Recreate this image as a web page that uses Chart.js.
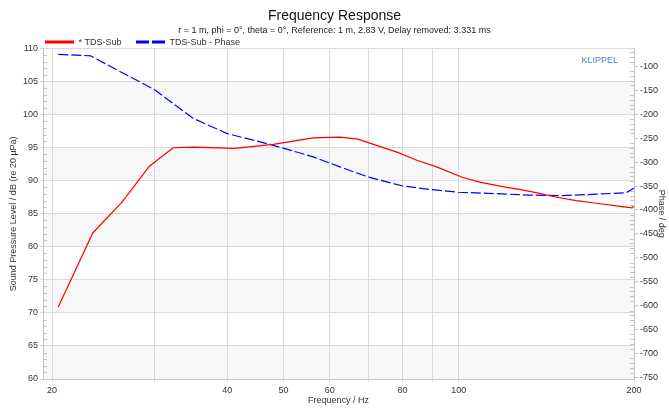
<!DOCTYPE html>
<html>
<head>
<meta charset="utf-8">
<script src="https://cdn.jsdelivr.net/npm/chart.js@4/dist/chart.umd.min.js"></script>
<style>
    html, body { margin: 0; padding: 0; background: #fff; }
    #wrap { width: 669px; height: 408px; }
</style>
</head>
<body>
<div id="wrap"><canvas id="chart"></canvas></div>
<script>
// SPL curve (left axis)
const splFreq = [20.5, 23.5, 26.4, 29.4, 32.3, 35.0, 41.2, 48.0, 56.2, 62.5, 67.1, 70.3, 78.5, 84.7, 91.6, 101.6, 108.6, 120.8, 127.2, 137.7, 147.2, 159.2, 172.4, 186.5, 198.4, 200];
const splDb   = [70.9, 82.1, 86.8, 92.2, 95.0, 95.1, 94.9, 95.5, 96.5, 96.6, 96.3, 95.7, 94.3, 93.1, 92.1, 90.5, 89.8, 89.0, 88.7, 88.1, 87.5, 87.0, 86.6, 86.2, 85.9, 86.2];

// Phase curve (right axis)
const phaseFreq = [20.5, 23.3, 25.9, 29.1, 30.1, 32.3, 35.0, 39.9, 48.0, 56.2, 62.5, 67.6, 70.3, 80.1, 89.1, 99.8, 116.1, 132.2, 150.7, 172.3, 194.0, 200];
const phaseDeg  = [-75, -78, -108, -140, -150, -178, -209, -240, -265, -289, -310, -325, -332, -350, -357, -363, -366, -369, -370, -367, -364, -354];

// axis ticks
const gridFreqs  = [20, 30, 40, 50, 60, 70, 80, 90, 100, 200];
const labelFreqs = [20, 40, 50, 60, 80, 100, 200];

const FONT = "'Liberation Sans', Arial, sans-serif";
const TXT = '#333';

function toPoints(xs, ys) {
    return xs.map(function(x, i) { return { x: x, y: ys[i] }; });
}

// grey bands every other 5 dB, plus white background
const bands = {
    id: 'bands',
    beforeDraw(chart) {
        const ctx = chart.ctx, a = chart.chartArea, y = chart.scales.y;
        ctx.save();
        ctx.fillStyle = '#fff';
        ctx.fillRect(0, 0, chart.width, chart.height);
        ctx.fillStyle = '#f7f7f7';
        for (let v = 60; v < 110; v += 10) {
            const top = y.getPixelForValue(v + 5), bot = y.getPixelForValue(v);
            ctx.fillRect(a.left, top, a.right - a.left, bot - top);
        }
        ctx.restore();
    }
};

// minor ticks inside the plot edges + the KLIPPEL tag
const extras = {
    id: 'extras',
    afterDraw(chart) {
        const ctx = chart.ctx, a = chart.chartArea;
        const y = chart.scales.y, y2 = chart.scales.y2;
        ctx.save();
        ctx.strokeStyle = '#c4c4c4';
        ctx.lineWidth = 1;
        ctx.beginPath();
        for (let v = 61; v < 110; v++) {
            if (v % 5 === 0) continue;
            const py = Math.round(y.getPixelForValue(v)) + 0.5;
            ctx.moveTo(a.left, py); ctx.lineTo(a.left + 4, py);
        }
        for (let v = -750; v <= y2.max; v += 10) {
            if (v % 50 === 0) continue;
            const py = Math.round(y2.getPixelForValue(v)) + 0.5;
            ctx.moveTo(a.right - 4, py); ctx.lineTo(a.right, py);
        }
        ctx.stroke();
        ctx.fillStyle = '#4a86c4';
        ctx.font = '9px ' + FONT;
        ctx.textAlign = 'right';
        ctx.textBaseline = 'middle';
        ctx.fillText('KLIPPEL', a.right - 16, a.top + 12);
        ctx.restore();
    }
};

document.addEventListener('DOMContentLoaded', function() {
    const ctx = document.getElementById('chart');

    new Chart(ctx, {
        type: 'line',
        data: {
            datasets: [{
                label: '* TDS-Sub',
                data: toPoints(splFreq, splDb),
                yAxisID: 'y',
                borderColor: '#ff0000',
                borderWidth: 1.2,
                pointRadius: 0,
                tension: 0,
                legendDash: []
            }, {
                label: 'TDS-Sub - Phase',
                data: toPoints(phaseFreq, phaseDeg),
                yAxisID: 'y2',
                borderColor: '#0000ff',
                borderWidth: 1.2,
                borderDash: [10, 3],
                pointRadius: 0,
                tension: 0,
                legendDash: [13, 3]
            }]
        },
        options: {
            responsive: true,
            maintainAspectRatio: false,
            animation: false,
            layout: { padding: 0 },
            plugins: {
                title: {
                    display: true,
                    text: 'Frequency Response',
                    color: '#111',
                    font: { family: FONT, size: 14, weight: 'normal' },
                    padding: { top: 8, bottom: 0 }
                },
                subtitle: {
                    display: true,
                    text: 'r = 1 m, phi = 0°, theta = 0°, Reference: 1 m, 2.83 V, Delay removed: 3.331 ms',
                    color: '#222',
                    font: { family: FONT, size: 9 },
                    padding: { top: 0, bottom: 0 }
                },
                legend: {
                    align: 'start',
                    fullSize: false,
                    maxHeight: 13,
                    labels: {
                        usePointStyle: true,
                        pointStyleWidth: 29,
                        boxHeight: 9,
                        padding: 2,
                        color: TXT,
                        font: { family: FONT, size: 9 },
                        generateLabels: function(chart) {
                            return chart.data.datasets.map(function(ds, i) {
                                return {
                                    text: ds.label + (i === 0 ? '     ' : ''),
                                    fillStyle: ds.borderColor,
                                    strokeStyle: ds.borderColor,
                                    fontColor: TXT,
                                    lineWidth: 3,
                                    lineDash: ds.legendDash,
                                    pointStyle: 'line',
                                    datasetIndex: i
                                };
                            });
                        }
                    }
                },
                tooltip: { enabled: false }
            },
            scales: {
                x: {
                    type: 'logarithmic',
                    min: 19.3,
                    max: 200,
                    afterBuildTicks: function(scale) {
                        scale.ticks = gridFreqs.map(function(v) { return { value: v }; });
                    },
                    afterFit: function(scale) { scale.height = 29; },
                    ticks: {
                        autoSkip: false,
                        maxRotation: 0,
                        padding: 3,
                        color: TXT,
                        font: { family: FONT, size: 9 },
                        callback: function(value) {
                            return labelFreqs.indexOf(value) >= 0 ? String(value) : '';
                        }
                    },
                    grid: { color: '#dadada', tickLength: 3 },
                    border: { color: '#c4c4c4' },
                    title: {
                        display: true,
                        text: 'Frequency / Hz',
                        color: TXT,
                        font: { family: FONT, size: 9 },
                        padding: { top: 0, bottom: 2 }
                    }
                },
                y: {
                    position: 'left',
                    min: 60,
                    max: 110,
                    afterFit: function(scale) { scale.width = 43; },
                    ticks: {
                        stepSize: 5,
                        padding: 2,
                        color: TXT,
                        font: { family: FONT, size: 9 }
                    },
                    grid: { color: '#dadada', tickLength: 3 },
                    border: { color: '#c4c4c4' },
                    title: {
                        display: true,
                        text: 'Sound Pressure Level / dB (re 20 µPa)',
                        color: TXT,
                        font: { family: FONT, size: 9 },
                        padding: { top: 8, bottom: 0 }
                    }
                },
                y2: {
                    position: 'right',
                    min: -753,
                    max: -63,
                    afterFit: function(scale) { scale.width = 35; },
                    ticks: {
                        stepSize: 50,
                        includeBounds: false,
                        padding: 2,
                        color: TXT,
                        font: { family: FONT, size: 9 }
                    },
                    grid: { drawOnChartArea: false, color: '#c4c4c4', tickLength: 4 },
                    border: { color: '#c4c4c4' },
                    title: {
                        display: true,
                        text: 'Phase / deg',
                        color: TXT,
                        font: { family: FONT, size: 9 },
                        padding: { top: 2, bottom: 0 }
                    }
                }
            }
        },
        plugins: [bands, extras]
    });
});
</script>
</body>
</html>
